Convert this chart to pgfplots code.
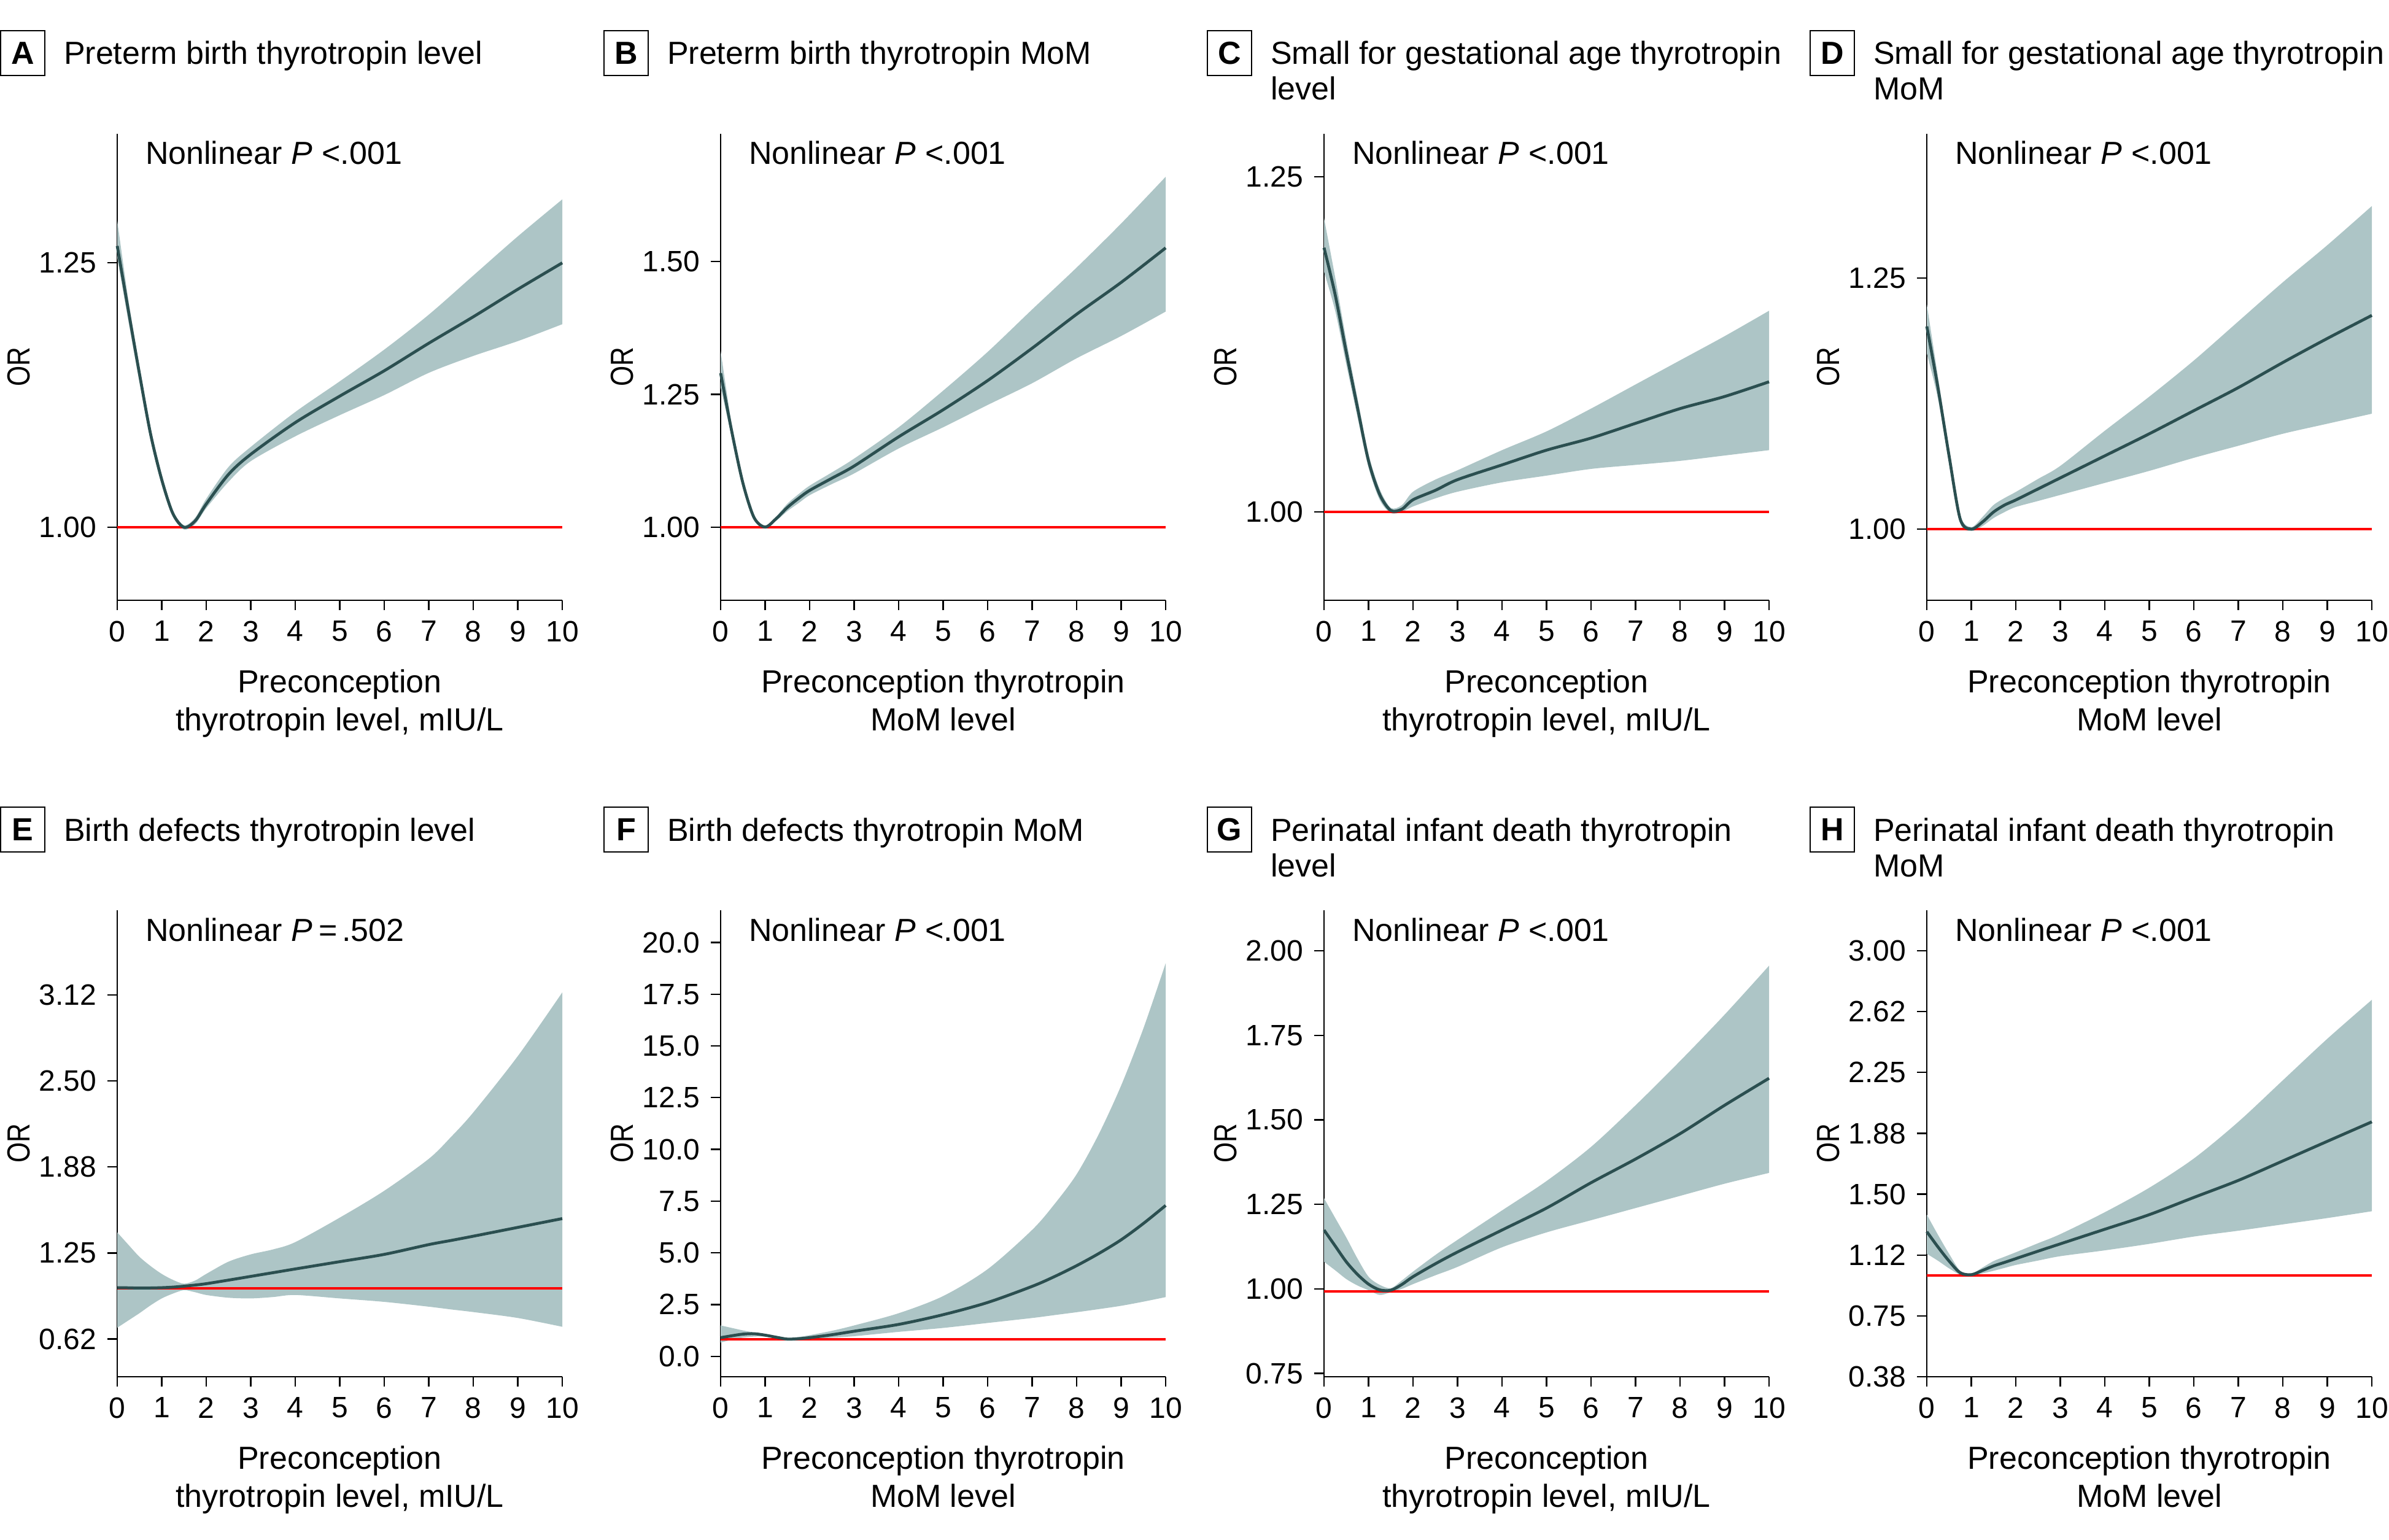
\documentclass[border=0pt]{standalone}
\usepackage{fontspec}
\setmainfont{Liberation Sans}
\usepackage{graphicx}
\usepackage{pgfplots}
\usepackage{pgfplotstable}
\pgfplotsset{compat=1.18}
\usepgfplotslibrary{fillbetween}

\definecolor{bandc}{HTML}{ADC5C6}
\definecolor{linec}{HTML}{2B4F50}
\definecolor{refc}{HTML}{FF0000}

\newcommand{\tf}{\fontsize{10.4}{12.4}\selectfont}

\pgfplotstableread{
x lo est up
0 1.255 1.266 1.290
0.25 1.195 1.205 1.215
0.5 1.137 1.145 1.152
0.75 1.082 1.088 1.094
1 1.040 1.045 1.050
1.25 1.010 1.013 1.016
1.5 0.998 1.000 1.002
1.75 1.003 1.006 1.009
2 1.018 1.022 1.027
2.5 1.043 1.050 1.057
3 1.0625 1.069 1.076
4 1.086 1.099 1.109
5 1.106 1.124 1.138
6 1.125 1.148 1.168
7 1.146 1.174 1.201
8 1.162 1.199 1.238
9 1.176 1.225 1.275
10 1.192 1.250 1.310
}\tA
\pgfplotstableread{
x lo est up
0 1.263 1.290 1.332
0.25 1.170 1.180 1.193
0.5 1.078 1.083 1.089
0.75 1.015 1.018 1.021
1 0.998 1.000 1.002
1.25 1.012 1.016 1.020
1.5 1.030 1.037 1.044
1.75 1.045 1.054 1.062
2 1.060 1.069 1.078
2.5 1.081 1.092 1.103
3 1.101 1.115 1.129
4 1.148 1.170 1.188
5 1.188 1.221 1.257
6 1.230 1.276 1.330
7 1.271 1.337 1.410
8 1.318 1.401 1.489
9 1.360 1.461 1.572
10 1.406 1.526 1.660
}\tB
\pgfplotstableread{
x lo est up
0 1.179 1.197 1.219
0.25 1.150 1.162 1.175
0.5 1.110 1.119 1.128
0.75 1.071 1.078 1.085
1 1.033 1.038 1.043
1.25 1.009 1.013 1.017
1.5 0.999 1.001 1.003
1.75 1.000 1.002 1.005
2 1.004 1.009 1.015
2.5 1.010 1.016 1.024
3 1.015 1.024 1.031
4 1.022 1.035 1.046
5 1.027 1.046 1.060
6 1.032 1.055 1.077
7 1.035 1.066 1.095
8 1.038 1.077 1.113
9 1.042 1.086 1.131
10 1.046 1.097 1.150
}\tC
\pgfplotstableread{
x lo est up
0 1.175 1.202 1.224
0.25 1.130 1.141 1.152
0.5 1.066 1.073 1.080
0.75 1.006 1.010 1.014
1 0.998 1.000 1.002
1.25 1.003 1.007 1.012
1.5 1.011 1.017 1.024
1.75 1.017 1.024 1.031
2 1.022 1.029 1.037
2.5 1.028 1.040 1.050
3 1.034 1.051 1.063
4 1.046 1.073 1.098
5 1.058 1.095 1.132
6 1.071 1.118 1.168
7 1.083 1.141 1.207
8 1.095 1.166 1.246
9 1.105 1.190 1.283
10 1.115 1.213 1.322
}\tD
\pgfplotstableread{
x lo est up
0 0.707 0.998 1.400
0.25 0.760 0.997 1.310
0.5 0.813 0.995 1.222
0.75 0.870 0.996 1.155
1 0.920 0.998 1.098
1.25 0.955 1.002 1.055
1.5 0.980 1.009 1.027
1.75 0.965 1.017 1.050
2 0.945 1.027 1.098
2.5 0.925 1.053 1.187
3 0.920 1.080 1.240
3.5 0.930 1.107 1.276
4 0.945 1.134 1.329
5 0.920 1.187 1.507
6 0.895 1.240 1.702
7 0.860 1.311 1.934
7.5 0.840 1.341 2.093
8 0.821 1.372 2.271
9 0.778 1.436 2.680
10 0.714 1.500 3.143
}\tE
\pgfplotstableread{
x lo est up
0 0.66 0.90 1.49
0.25 0.80 0.99 1.37
0.5 0.90 1.07 1.25
0.75 0.95 1.09 1.15
1 0.95 1.02 1.07
1.25 0.87 0.92 0.97
1.5 0.78 0.83 0.88
1.75 0.80 0.85 0.93
2 0.83 0.90 1.02
2.5 0.90 1.04 1.23
3 0.97 1.21 1.49
4 1.18 1.54 2.08
5 1.37 2.01 2.91
6 1.61 2.60 4.21
7 1.85 3.38 6.11
7.5 1.99 3.85 7.35
8 2.13 4.38 8.80
8.5 2.28 4.97 10.75
9 2.44 5.63 13.09
9.5 2.64 6.42 15.85
10 2.86 7.29 19.00
}\tF
\pgfplotstableread{
x lo est up
0 1.080 1.174 1.268
0.25 1.055 1.127 1.210
0.5 1.029 1.080 1.152
0.75 1.010 1.043 1.090
1 0.996 1.014 1.036
1.25 0.982 0.997 1.012
1.5 0.990 0.996 1.002
1.75 1.000 1.013 1.025
2 1.014 1.036 1.051
2.5 1.040 1.074 1.100
3 1.065 1.109 1.145
4 1.123 1.174 1.232
5 1.167 1.239 1.319
6 1.203 1.314 1.420
7 1.239 1.384 1.543
8 1.275 1.459 1.674
9 1.311 1.543 1.811
10 1.343 1.623 1.956
}\tG
\pgfplotstableread{
x lo est up
0 1.133 1.269 1.374
0.25 1.090 1.175 1.250
0.5 1.043 1.088 1.133
0.75 1.004 1.016 1.028
1 0.998 1.004 1.010
1.25 1.012 1.030 1.048
1.5 1.028 1.058 1.088
1.75 1.046 1.080 1.115
2 1.064 1.103 1.142
2.5 1.091 1.149 1.198
3 1.118 1.194 1.254
4 1.154 1.284 1.389
5 1.194 1.374 1.540
6 1.239 1.480 1.720
7 1.275 1.585 1.946
8 1.314 1.705 2.202
9 1.353 1.826 2.458
10 1.395 1.946 2.698
}\tH

\pgfplotsset{
  panel/.style={
    width=145pt, height=152pt, scale only axis,
    anchor=south west,
    xmin=0, xmax=10, xtick={0,1,...,10},
    axis x line*=bottom, axis y line*=left,
    axis line style={line width=0.45pt, black},
    tick align=outside, major tick length=3.2pt,
    every tick/.style={black, line width=0.45pt},
    tick label style={font=\fontsize{9.6}{10}\selectfont},
    /pgf/number format/assume math mode=true,
    xlabel style={font=\tf, align=center, at={(axis description cs:0.5,0)}, anchor=north, yshift=-22.3pt, inner sep=0pt},
    clip=false,
  },
  est/.style={linec, line width=0.95pt, smooth},
  bnd/.style={draw=none, smooth},
  refl/.style={refc, line width=0.75pt},
}

\newcommand{\bandplot}[2]{%
  \addplot[bnd, name path=up#2] table[x=x, y=up] {#1};
  \addplot[bnd, name path=lo#2] table[x=x, y=lo] {#1};
  \addplot[fill=bandc, draw=none] fill between[of=up#2 and lo#2];
}

\newcommand{\ptitle}[4]{%
  \node[draw, line width=0.4pt, minimum width=14.4pt, minimum height=14.6pt, inner sep=0pt, font=\tf\bfseries] at ({#1-30.8pt}, {#2+26.3pt}) {#3};
  \node[anchor=base west, inner sep=0pt, font=\tf] at ({#1-17.6pt}, {#2+22.6pt}) {#4};
}
\newcommand{\pextra}[3]{% X, bottom Y, P text
  \node[anchor=base west, inner sep=0pt, font=\tf] at ({#1+9pt}, {#2+142pt}) {Nonlinear \textit{P}#3};
  \node[rotate=90, inner sep=0pt, font=\tf] at ({#1-32pt}, {#2+76pt}) {\scalebox{0.82}[1]{OR}};
}

\begin{document}
\begin{tikzpicture}

% ---------- A
\begin{axis}[panel, at={(38.2pt,306pt)}, ymin=0.931, ymax=1.372,
  ytick={1,1.25}, yticklabels={1.00,1.25},
  xlabel={Preconception\\thyrotropin level, mIU/L}]
\bandplot{\tA}{A}
\addplot[refl] coordinates {(0,1) (10,1)};
\addplot[est] table[x=x, y=est] {\tA};
\end{axis}
% ---------- B
\begin{axis}[panel, at={(234.8pt,306pt)}, ymin=0.862, ymax=1.741,
  ytick={1,1.25,1.5}, yticklabels={1.00,1.25,1.50},
  xlabel={Preconception thyrotropin\\MoM level}]
\bandplot{\tB}{B}
\addplot[refl] coordinates {(0,1) (10,1)};
\addplot[est] table[x=x, y=est] {\tB};
\end{axis}
% ---------- C
\begin{axis}[panel, at={(431.4pt,306pt)}, ymin=0.934, ymax=1.282,
  ytick={1,1.25}, yticklabels={1.00,1.25},
  xlabel={Preconception\\thyrotropin level, mIU/L}]
\bandplot{\tC}{C}
\addplot[refl] coordinates {(0,1) (10,1)};
\addplot[est] table[x=x, y=est] {\tC};
\end{axis}
% ---------- D
\begin{axis}[panel, at={(627.8pt,306pt)}, ymin=0.929, ymax=1.394,
  ytick={1,1.25}, yticklabels={1.00,1.25},
  xlabel={Preconception thyrotropin\\MoM level}]
\bandplot{\tD}{D}
\addplot[refl] coordinates {(0,1) (10,1)};
\addplot[est] table[x=x, y=est] {\tD};
\end{axis}
% ---------- E
\begin{axis}[panel, at={(38.2pt,53pt)}, ymin=0.351, ymax=3.74,
  ytick={0.625,1.25,1.875,2.5,3.125}, yticklabels={0.62,1.25,1.88,2.50,3.12},
  xlabel={Preconception\\thyrotropin level, mIU/L}]
\bandplot{\tE}{E}
\addplot[refl] coordinates {(0,0.992) (10,0.992)};
\addplot[est] table[x=x, y=est] {\tE};
\end{axis}
% ---------- F
\begin{axis}[panel, at={(234.8pt,53pt)}, ymin=-0.99, ymax=21.56,
  ytick={0,2.5,5,7.5,10,12.5,15,17.5,20}, yticklabels={0.0,2.5,5.0,7.5,10.0,12.5,15.0,17.5,20.0},
  xlabel={Preconception thyrotropin\\MoM level}]
\bandplot{\tF}{F}
\addplot[refl] coordinates {(0,0.83) (10,0.83)};
\addplot[est] table[x=x, y=est] {\tF};
\end{axis}
% ---------- G
\begin{axis}[panel, at={(431.4pt,53pt)}, ymin=0.74, ymax=2.12,
  ytick={0.75,1,1.25,1.5,1.75,2}, yticklabels={0.75,1.00,1.25,1.50,1.75,2.00},
  xlabel={Preconception\\thyrotropin level, mIU/L}]
\bandplot{\tG}{G}
\addplot[refl] coordinates {(0,0.993) (10,0.993)};
\addplot[est] table[x=x, y=est] {\tG};
\end{axis}
% ---------- H
\begin{axis}[panel, at={(627.8pt,53pt)}, ymin=0.375, ymax=3.25,
  ytick={0.375,0.75,1.125,1.5,1.875,2.25,2.625,3}, yticklabels={0.38,0.75,1.12,1.50,1.88,2.25,2.62,3.00},
  xlabel={Preconception thyrotropin\\MoM level}]
\bandplot{\tH}{H}
\addplot[refl] coordinates {(0,1) (10,1)};
\addplot[est] table[x=x, y=est] {\tH};
\end{axis}

% ---------- titles and annotations
\ptitle{38.2pt}{458pt}{A}{Preterm birth thyrotropin level}
\ptitle{234.8pt}{458pt}{B}{Preterm birth thyrotropin MoM}
\ptitle{431.4pt}{458pt}{C}{Small for gestational age thyrotropin}
\node[anchor=base west, inner sep=0pt, font=\tf] at (413.8pt, 469pt) {level};
\ptitle{627.8pt}{458pt}{D}{Small for gestational age thyrotropin}
\node[anchor=base west, inner sep=0pt, font=\tf] at (610.2pt, 469pt) {MoM};
\ptitle{38.2pt}{205pt}{E}{Birth defects thyrotropin level}
\ptitle{234.8pt}{205pt}{F}{Birth defects thyrotropin MoM}
\ptitle{431.4pt}{205pt}{G}{Perinatal infant death thyrotropin}
\node[anchor=base west, inner sep=0pt, font=\tf] at (413.8pt, 216pt) {level};
\ptitle{627.8pt}{205pt}{H}{Perinatal infant death thyrotropin}
\node[anchor=base west, inner sep=0pt, font=\tf] at (610.2pt, 216pt) {MoM};

\pextra{38.2pt}{306pt}{\hspace{0.3em}<.001}
\pextra{234.8pt}{306pt}{\hspace{0.3em}<.001}
\pextra{431.4pt}{306pt}{\hspace{0.3em}<.001}
\pextra{627.8pt}{306pt}{\hspace{0.3em}<.001}
\pextra{38.2pt}{53pt}{\hspace{0.2em}=\hspace{0.15em}.502}
\pextra{234.8pt}{53pt}{\hspace{0.3em}<.001}
\pextra{431.4pt}{53pt}{\hspace{0.3em}<.001}
\pextra{627.8pt}{53pt}{\hspace{0.3em}<.001}

\pgfresetboundingbox
\useasboundingbox (0,0) rectangle (778.4pt,501.6pt);
\end{tikzpicture}
\end{document}
